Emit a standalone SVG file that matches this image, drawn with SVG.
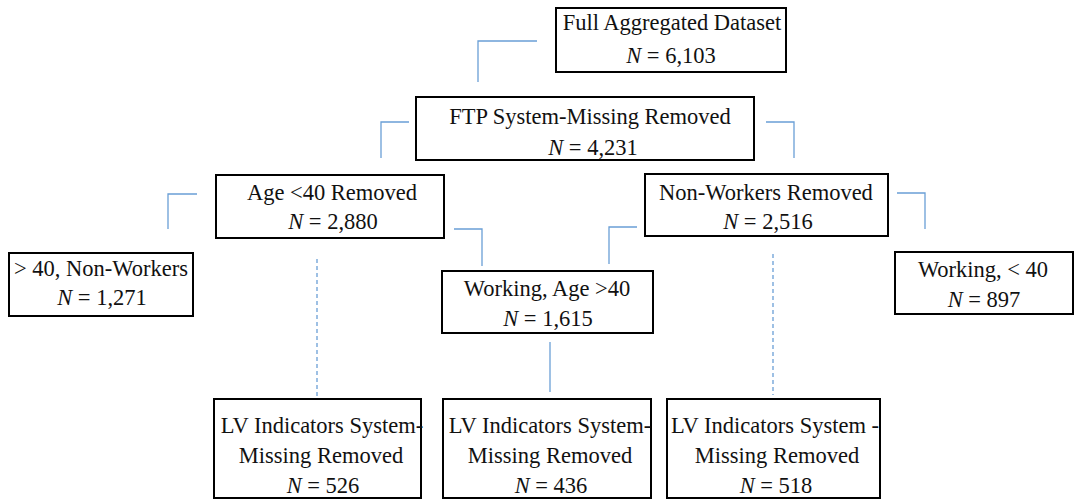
<svg xmlns="http://www.w3.org/2000/svg" width="1075" height="499" viewBox="0 0 1075 499">
  <style>
    .box { fill: #ffffff; stroke: #000000; stroke-width: 2; }
    .lbl { font-family: 'Liberation Serif', 'Times New Roman', serif; font-size: 22.5px; fill: #111111; text-anchor: middle; }
    .it { font-style: italic; }
    .link { fill: none; stroke: #6a9fd6; stroke-width: 1.3; }
    .dash { fill: none; stroke: #6a9fd6; stroke-width: 1.3; stroke-dasharray: 4 3; }
  </style>
  <rect width="1075" height="499" fill="#ffffff"/>

  <!-- connectors: elbows between levels, dashed drops to the bottom row -->
  <g id="connectors">
    <path class="link" d="M537 41 H478 V82"/>
    <path class="link" d="M409 122 H381 V158"/>
    <path class="link" d="M766 122 H794 V158"/>
    <path class="link" d="M197 194 H168 V229"/>
    <path class="link" d="M454 229 H482 V266"/>
    <path class="link" d="M637 227 H609 V264"/>
    <path class="link" d="M897 193 H925 V229"/>
    <path class="link" d="M550 342 V392"/>
    <path class="dash" d="M317 259 V397"/>
    <path class="dash" d="M773 254 V395"/>
  </g>

  <!-- nodes -->
  <g id="full-dataset">
    <rect class="box" x="556" y="8" width="230" height="64"/>
    <text class="lbl" x="672" y="30">Full Aggregated Dataset</text>
    <text class="lbl" x="671" y="63"><tspan class="it">N</tspan> = 6,103</text>
  </g>

  <g id="ftp-removed">
    <rect class="box" x="416" y="97" width="338" height="63"/>
    <text class="lbl" x="590" y="124">FTP System-Missing Removed</text>
    <text class="lbl" x="593" y="155"><tspan class="it">N</tspan> = 4,231</text>
  </g>

  <g id="age-removed">
    <rect class="box" x="216" y="175" width="228" height="63"/>
    <text class="lbl" x="332" y="200">Age &lt;40 Removed</text>
    <text class="lbl" x="333" y="229"><tspan class="it">N</tspan> = 2,880</text>
  </g>

  <g id="nonworkers-removed">
    <rect class="box" x="645" y="174" width="243" height="62"/>
    <text class="lbl" x="766" y="200">Non-Workers Removed</text>
    <text class="lbl" x="768" y="229"><tspan class="it">N</tspan> = 2,516</text>
  </g>

  <g id="over40-nonworkers">
    <rect class="box" x="9" y="253" width="184" height="63"/>
    <text class="lbl" x="101" y="276">&gt; 40, Non-Workers</text>
    <text class="lbl" x="102" y="305"><tspan class="it">N</tspan> = 1,271</text>
  </g>

  <g id="working-over40">
    <rect class="box" x="442" y="271" width="211" height="62"/>
    <text class="lbl" x="547" y="296">Working, Age &gt;40</text>
    <text class="lbl" x="548" y="326"><tspan class="it">N</tspan> = 1,615</text>
  </g>

  <g id="working-under40">
    <rect class="box" x="895" y="252" width="178" height="62"/>
    <text class="lbl" x="983" y="277">Working, &lt; 40</text>
    <text class="lbl" x="984" y="307"><tspan class="it">N</tspan> = 897</text>
  </g>

  <g id="lv-526">
    <rect class="box" x="214" y="399" width="207" height="99"/>
    <text class="lbl" x="322" y="433">LV Indicators System-</text>
    <text class="lbl" x="321" y="463">Missing Removed</text>
    <text class="lbl" x="323" y="493"><tspan class="it">N</tspan> = 526</text>
  </g>

  <g id="lv-436">
    <rect class="box" x="443" y="399" width="208" height="99"/>
    <text class="lbl" x="550" y="433">LV Indicators System-</text>
    <text class="lbl" x="550" y="463">Missing Removed</text>
    <text class="lbl" x="551" y="493"><tspan class="it">N</tspan> = 436</text>
  </g>

  <g id="lv-518">
    <rect class="box" x="667" y="399" width="213" height="99"/>
    <text class="lbl" x="775" y="433">LV Indicators System -</text>
    <text class="lbl" x="777" y="463">Missing Removed</text>
    <text class="lbl" x="776" y="493"><tspan class="it">N</tspan> = 518</text>
  </g>
</svg>
